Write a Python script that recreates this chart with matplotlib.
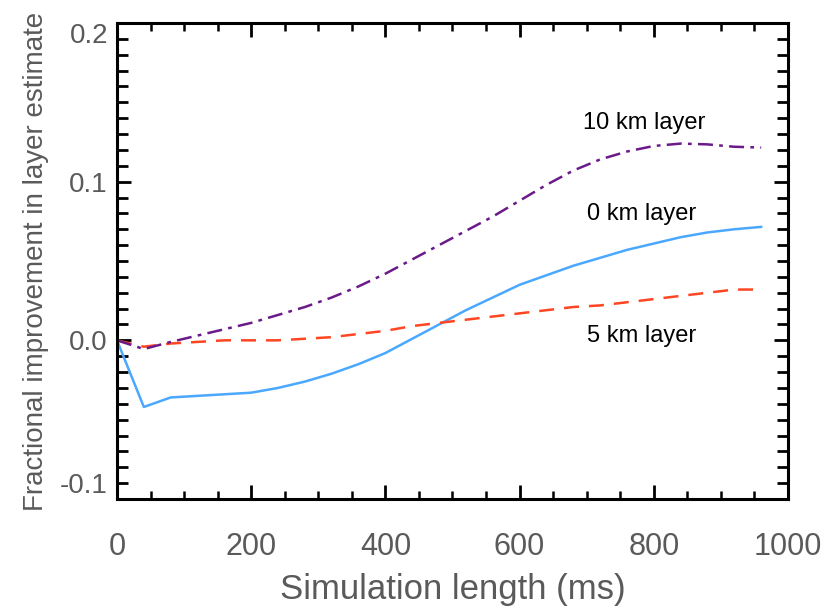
"""
Fractional improvement in layer estimate vs simulation length, three layers.
"""
import matplotlib
matplotlib.use("Agg")
import matplotlib.pyplot as plt
import numpy as np

plt.rcParams["font.family"] = ["Liberation Sans", "DejaVu Sans"]

# ── Data ──────────────────────────────────────────────────────────────────
sim_length_ms = [0, 40, 80, 120, 160, 200, 240, 280, 320, 360, 400, 440, 480,
                 520, 560, 600, 640, 680, 720, 760, 800, 840, 880, 920, 960]

layer_0km = [0.000, -0.042, -0.036, -0.035, -0.034, -0.033, -0.030, -0.026,
             -0.021, -0.015, -0.008, 0.001, 0.010, 0.019, 0.027, 0.035,
             0.041, 0.047, 0.052, 0.057, 0.061, 0.065, 0.068, 0.070, 0.0715]

layer_5km = [0.000, -0.004, -0.002, -0.001, 0.000, 0.000, 0.000, 0.001,
             0.002, 0.004, 0.006, 0.009, 0.011, 0.013, 0.015, 0.017,
             0.019, 0.021, 0.022, 0.024, 0.026, 0.028, 0.030, 0.032, 0.032]

layer_10km = [0.000, -0.0055, -0.001, 0.003, 0.007, 0.011, 0.016, 0.021,
              0.027, 0.034, 0.042, 0.051, 0.060, 0.069, 0.078, 0.088,
              0.098, 0.107, 0.114, 0.119, 0.1225, 0.124, 0.1235, 0.122, 0.1215]

x_ticks = [0, 200, 400, 600, 800, 1000]
y_ticks = [-0.1, 0.0, 0.1, 0.2]
y_tick_labels = ["-0.1", "0.0", "0.1", "0.2"]

BLUE   = "#4aa8ff"
RED    = "#ff4522"
PURPLE = "#6b1a8a"
GREY   = "#5a5a5a"

fig = plt.figure(figsize=(8.28, 6.11), dpi=100)
ax = fig.add_axes([117 / 828, 1 - 499 / 611, (788 - 117) / 828, (499 - 23) / 611])

ax.plot(sim_length_ms, layer_0km, color=BLUE, lw=1.8, solid_joinstyle="round")
ax.plot(sim_length_ms, layer_5km, color=RED, lw=1.8, dashes=(6, 4))
ax.plot(sim_length_ms, layer_10km, color=PURPLE, lw=1.8, dashes=(6, 2.5, 1.5, 2.5))

# ── Curve labels ──────────────────────────────────────────────────────────
ax.text(785, 0.1335, "10 km layer", ha="center", va="baseline", fontsize=17, color="black")
ax.text(782, 0.0758, "0 km layer", ha="center", va="baseline", fontsize=17, color="black")
ax.text(782, -0.001, "5 km layer", ha="center", va="baseline", fontsize=17, color="black")

# ── Axes ──────────────────────────────────────────────────────────────────
ax.set_xlim(0, 1000)
ax.set_ylim(-0.1, 0.2)
ax.set_xticks(x_ticks)
ax.set_yticks(y_ticks)
ax.set_yticklabels(y_tick_labels)
ax.set_xticks(np.arange(50, 1000, 50), minor=True)
ax.set_yticks(np.round(np.arange(-0.09, 0.2, 0.01), 3), minor=True)

ax.tick_params(which="both", direction="in", top=True, right=True, color="black")
ax.tick_params(which="major", length=10, width=2.0)
ax.tick_params(which="minor", length=6, width=1.8)
ax.tick_params(axis="y", which="minor", length=8, width=2.0)
ax.tick_params(axis="x", labelsize=22, labelcolor=GREY, pad=24)
ax.tick_params(axis="y", labelsize=20, labelcolor=GREY, pad=6.5)

# IDL-style: end labels are kept inside the axis range
ylabels = ax.get_yticklabels()
ylabels[0].set_verticalalignment("bottom")
ylabels[-1].set_verticalalignment("top")

for spine in ax.spines.values():
    spine.set_linewidth(2.2)
    spine.set_color("black")

ax.set_xlabel("Simulation length (ms)", fontsize=25, color=GREY, labelpad=8)
ax.set_ylabel("Fractional improvement in layer estimate", fontsize=20, color=GREY, labelpad=8)

fig.savefig("out.png", dpi=100, facecolor="white")
